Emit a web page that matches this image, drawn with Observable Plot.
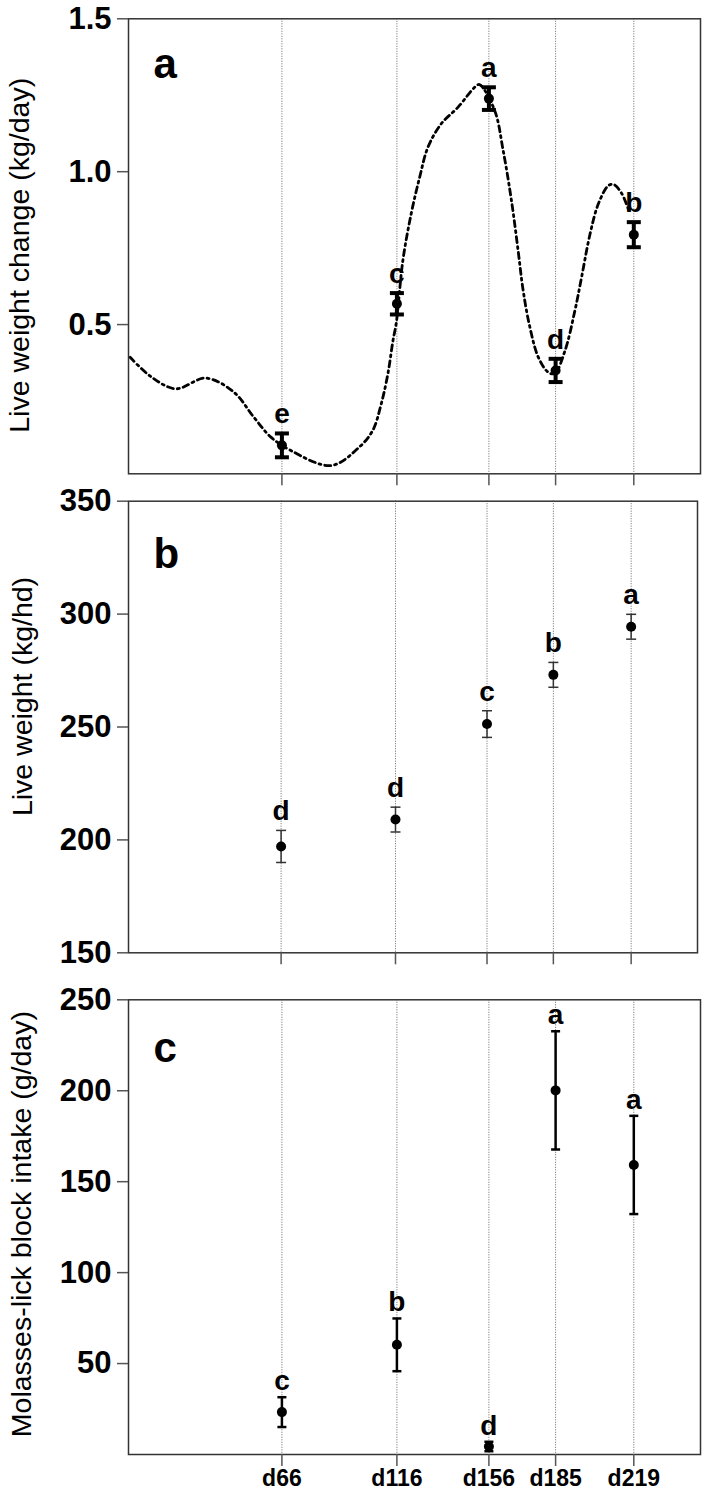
<!DOCTYPE html>
<html><head><meta charset="utf-8">
<script src="https://cdn.jsdelivr.net/npm/d3@7"></script>
<script src="https://cdn.jsdelivr.net/npm/@observablehq/plot@0.6"></script>
<style>
body{margin:0;background:#fff;}
#chart svg{display:block;}
</style></head><body><div id="chart"></div>
<script>
// ---- data ----
const days = [66, 116, 156, 185, 219];
const dayLabels = ["d66", "d116", "d156", "d185", "d219"];

// (a) live weight change, kg/day
const changeMean = [0.105, 0.568, 1.239, 0.350, 0.794];
const changeErr = [0.039, 0.035, 0.037, 0.038, 0.041];
const changeLetters = ["e", "c", "a", "d", "b"];
const trendDay = [0, 9, 19.8, 32.9, 45.1, 53.8, 61.2, 69.9, 87.4, 99.6, 105.5, 109.2, 112.1, 114.3, 115.7, 118.6, 122.2, 125.9, 129.5, 135.3, 142.6, 149.8, 151.9, 158.5, 162.2, 165.8, 168.7, 170.9, 173.8, 177.5, 181.8, 184.6, 189.1, 193.4, 196.3, 200, 203.6, 208, 210.3, 213.8, 216.8];
const trendValue = [0.393, 0.33, 0.290, 0.325, 0.279, 0.197, 0.132, 0.088, 0.039, 0.099, 0.154, 0.241, 0.340, 0.448, 0.504, 0.710, 0.862, 0.982, 1.080, 1.157, 1.211, 1.276, 1.285, 1.200, 1.069, 0.906, 0.742, 0.611, 0.492, 0.393, 0.344, 0.340, 0.415, 0.546, 0.655, 0.797, 0.895, 0.955, 0.958, 0.928, 0.873];

// (b) live weight, kg/hd
const weightMean = [197.1, 209.0, 251.3, 273.1, 294.4];
const weightErr = [7.1, 5.5, 5.9, 5.5, 5.5];
const weightLetters = ["d", "d", "c", "b", "a"];

// (c) molasses-lick block intake, g/day
const intakeMean = [23.3, 60.3, 4.4, 200.2, 159.2];
const intakeErr = [8.2, 14.5, 2.6, 32.5, 27.0];
const intakeLetters = ["c", "b", "d", "a", "a"];

const yTicksA = [0.5, 1.0, 1.5];
const yTicksB = [150, 200, 250, 300, 350];
const yTicksC = [50, 100, 150, 200, 250];

// ---- helpers ----
const xDomain = [-0.7, 248];
const font = "'Liberation Sans', Arial, Helvetica, sans-serif";
const cap = {draw(ctx, size) { const h = Math.sqrt(size / Math.PI); ctx.moveTo(-h, 0); ctx.lineTo(h, 0); }};
const rowsOf = (mean, err, letters) => days.map((d, i) => ({day: d, mean: mean[i], lo: mean[i] - err[i], hi: mean[i] + err[i], letter: letters[i]}));
const trend = trendDay.map((d, i) => ({day: d, v: trendValue[i]}));

function panel(o) {
  return Plot.plot({
    width: 707, height: o.height,
    marginTop: o.marginTop, marginBottom: o.marginBottom, marginLeft: 128, marginRight: o.marginRight,
    style: {fontFamily: font, background: "white", overflow: "visible", color: "black"},
    x: {domain: xDomain, axis: null},
    y: {domain: o.yDomain, axis: null},
    marks: [
      Plot.ruleX(days, {stroke: "#666", strokeWidth: 1, strokeDasharray: "1,1.5"}),
      ...(o.extra || []),
      Plot.ruleX(o.rows, {x: "day", y1: "lo", y2: "hi", stroke: o.barColor, strokeWidth: o.barWidth}),
      Plot.dot(o.rows, {x: "day", y: "hi", symbol: cap, r: o.capR, stroke: o.barColor, strokeWidth: o.barWidth, fill: "none"}),
      Plot.dot(o.rows, {x: "day", y: "lo", symbol: cap, r: o.capR, stroke: o.barColor, strokeWidth: o.barWidth, fill: "none"}),
      Plot.dot(o.rows, {x: "day", y: "mean", r: 5, fill: "black", stroke: "none"}),
      Plot.text(o.rows, {x: "day", y: "hi", text: "letter", dy: -o.letterGap, lineAnchor: "bottom", fontSize: 28, fontWeight: "bold", fill: "black"}),
      Plot.text([o.panelLetter], {frameAnchor: "top-left", dx: 25, dy: o.panelDy, lineAnchor: "bottom", textAnchor: "start", fontSize: 42, fontWeight: "bold", fill: "black"}),
      Plot.text([o.ylabel], {frameAnchor: "left", rotate: -90, dx: o.ylabelDx, dy: o.ylabelDy, lineAnchor: "bottom", textAnchor: "middle", fontSize: 28.5, fill: "black"}),
      Plot.frame({stroke: "#333", strokeWidth: 1.5}),
      Plot.axisY({ticks: o.yTicks, tickFormat: o.yFormat, tickSize: 11, tickPadding: 6, stroke: "#555", strokeWidth: 1.5, fontSize: 31, fontWeight: "bold", fill: "black", label: null}),
      Plot.axisX({ticks: days, tickSize: 12, tickPadding: 3, stroke: "#555", strokeWidth: 1.5,
        tickFormat: o.showX ? (d => dayLabels[days.indexOf(d)]) : (() => ""), fontSize: 23, fontWeight: "bold", fill: "black", label: null})
    ]
  });
}

const chart = document.getElementById("chart");
chart.append(panel({
  height: 490, marginTop: 18.3, marginBottom: 16.7, marginRight: 7,
  yDomain: [0.012, 1.5], yTicks: yTicksA, yFormat: d3.format(".1f"),
  rows: rowsOf(changeMean, changeErr, changeLetters), barColor: "black", barWidth: 4, capR: 7, letterGap: 10,
  panelLetter: "a", panelDy: 58.7,
  ylabel: "Live weight change (kg/day)", ylabelDx: -100, ylabelDy: 9,
  showX: false,
  extra: [Plot.line(trend, {x: "day", y: "v", curve: "catmull-rom", stroke: "black", strokeWidth: 2.8, strokeDasharray: "6,4,2,4"})]
}));
chart.append(panel({
  height: 485, marginTop: 10.7, marginBottom: 22.7, marginRight: 10,
  yDomain: [150, 350], yTicks: yTicksB, yFormat: d3.format("d"),
  rows: rowsOf(weightMean, weightErr, weightLetters), barColor: "#333", barWidth: 1.5, capR: 5, letterGap: 10,
  panelLetter: "b", panelDy: 66.3,
  ylabel: "Live weight (kg/hd)", ylabelDx: -96.5, ylabelDy: -30.5,
  showX: false
}));
chart.append(panel({
  height: 519, marginTop: 24.3, marginBottom: 40, marginRight: 7,
  yDomain: [0, 250], yTicks: yTicksC, yFormat: d3.format("d"),
  rows: rowsOf(intakeMean, intakeErr, intakeLetters), barColor: "black", barWidth: 2.5, capR: 4.5, letterGap: 7,
  panelLetter: "c", panelDy: 62.4,
  ylabel: "Molasses-lick block intake (g/day)", ylabelDx: -98, ylabelDy: -3,
  showX: true
}));
</script></body></html>
